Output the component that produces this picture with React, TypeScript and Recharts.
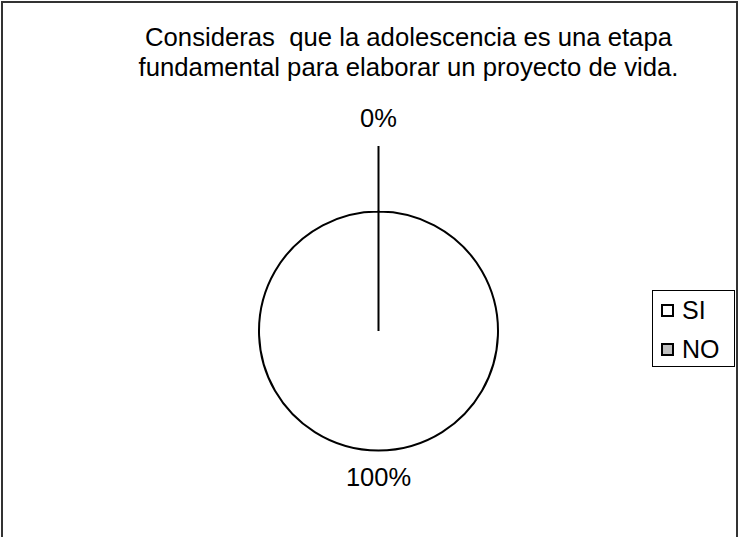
import React from "react";
import { PieChart, Pie, Cell, Legend } from "recharts";

const TITLE_LINES = [
  "Consideras  que la adolescencia es una etapa",
  "fundamental para elaborar un proyecto de vida.",
];
const CATEGORIES = ["SI", "NO"];
const VALUES = [100, 0];
const COLORS = ["#ffffff", "#c0c0c0"];

const data = CATEGORIES.map((name, i) => ({ name, value: VALUES[i] }));

const FONT = "'Liberation Sans', Arial, sans-serif";
const RAD = Math.PI / 180;

const renderLabel = (props: any) => {
  const { cx, cy, outerRadius, midAngle, percent, index } = props;
  const off = percent === 0 ? 84.5 : 35.5;
  const r = outerRadius + off;
  const x = cx + r * Math.cos(-midAngle * RAD);
  const y = cy + r * Math.sin(-midAngle * RAD);
  const txt = `${Math.round(percent * 100)}%`;
  return (
    <text
      key={`lbl-${index}`}
      x={x}
      y={y}
      textAnchor="middle"
      fontFamily={FONT}
      fontSize={25.5}
      fill="#000"
    >
      {txt}
    </text>
  );
};

const renderLabelLine = (props: any) => {
  const { cx, cy, outerRadius, midAngle, percent, index } = props;
  if (percent !== 0) return <g key={`ll-${index}`} />;
  const r1 = outerRadius;
  const r2 = outerRadius + 65.5;
  const x1 = cx + r1 * Math.cos(-midAngle * RAD);
  const y1 = cy + r1 * Math.sin(-midAngle * RAD);
  const x2 = cx + r2 * Math.cos(-midAngle * RAD);
  const y2 = cy + r2 * Math.sin(-midAngle * RAD);
  return (
    <line
      key={`ll-${index}`}
      x1={x1}
      y1={y1}
      x2={x2}
      y2={y2}
      stroke="#000"
      strokeWidth={2}
    />
  );
};

const LegendBox = (props: any) => {
  const payload = [...(props.payload || [])].sort(
    (a: any, b: any) => CATEGORIES.indexOf(a.value) - CATEGORIES.indexOf(b.value)
  );
  return (
    <div
      style={{
        position: "relative",
        width: 83,
        height: 77,
        boxSizing: "border-box",
        border: "1px solid #000",
        background: "#fff",
        fontFamily: FONT,
        fontSize: 25,
        color: "#000",
      }}
    >
      {payload.map((p: any, i: number) => (
        <div
          key={i}
          style={{
            position: "absolute",
            left: 0,
            top: 19 + i * 39 - 14,
            height: 28,
            width: 80,
          }}
        >
          <div
            style={{
              position: "absolute",
              left: 8,
              top: 7.5,
              width: 13,
              height: 13,
              boxSizing: "border-box",
              border: "2px solid #000",
              background: p.color,
            }}
          />
          <div
            style={{
              position: "absolute",
              left: 29,
              top: 0,
              lineHeight: "28px",
            }}
          >
            {p.value}
          </div>
        </div>
      ))}
    </div>
  );
};

export default function App() {
  return (
    <div
      style={{
        position: "fixed",
        left: 0,
        top: 0,
        width: 739,
        height: 537,
        overflow: "hidden",
        background: "#fff",
      }}
    >
      <PieChart
        width={739}
        height={537}
        margin={{ top: 0, right: 0, bottom: 0, left: 0 }}
      >
        <Pie
          data={data}
          dataKey="value"
          nameKey="name"
          cx={378.5}
          cy={331}
          outerRadius={119.5}
          startAngle={90}
          endAngle={-270}
          stroke="#000"
          strokeWidth={2}
          label={renderLabel}
          labelLine={renderLabelLine}
          isAnimationActive={false}
        >
          {data.map((d, i) => (
            <Cell key={d.name} fill={COLORS[i]} stroke="#000" strokeWidth={2} />
          ))}
        </Pie>
        <Legend
          content={<LegendBox />}
          wrapperStyle={{ left: 652, top: 290, width: 83, height: 77 }}
        />
      </PieChart>
      <div
        style={{
          position: "absolute",
          left: 408.5,
          top: 22,
          transform: "translateX(-50%)",
          whiteSpace: "pre",
          textAlign: "center",
          fontFamily: FONT,
          fontSize: 25.7,
          lineHeight: "30px",
          color: "#000",
        }}
      >
        {TITLE_LINES.join("\n")}
      </div>
      <div
        style={{
          position: "absolute",
          left: 1,
          top: 1,
          width: 737,
          height: 600,
          boxSizing: "border-box",
          border: "2px solid #333",
          pointerEvents: "none",
        }}
      />
    </div>
  );
}
